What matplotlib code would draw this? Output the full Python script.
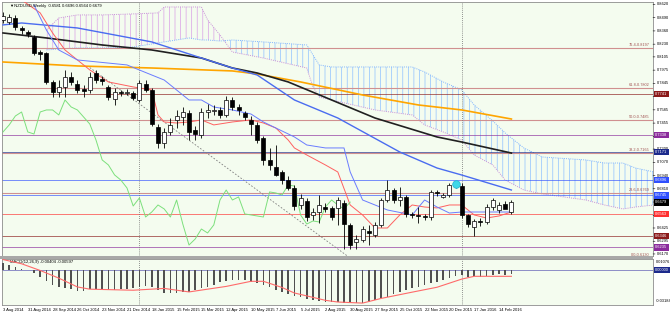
import matplotlib.pyplot as plt
import numpy as np
import pandas as pd

BG = "#f4fcef"
FONT = "Liberation Sans"

# weekly candles, first bar = week of 3 Aug 2014
first_week = "2014-08-03"
opens = [0.8468, 0.8448, 0.8487, 0.8389, 0.8350, 0.8301, 0.8153, 0.8144, 0.7859, 0.7761,
         0.7810, 0.7908, 0.7839, 0.7790, 0.7780, 0.7947, 0.7888, 0.7810, 0.7692, 0.7761,
         0.7751, 0.7751, 0.7682, 0.7839, 0.7780, 0.7417, 0.7260, 0.7368, 0.7486, 0.7515,
         0.7554, 0.7387, 0.7338, 0.7564, 0.7574, 0.7584, 0.7535, 0.7682, 0.7613, 0.7554,
         0.7486, 0.7437, 0.7309, 0.7093, 0.7024, 0.6975, 0.6896, 0.6818, 0.6651, 0.6690,
         0.6553, 0.6582, 0.6631, 0.6622, 0.6622, 0.6671, 0.6455, 0.6288, 0.6307, 0.6395,
         0.6356, 0.6455, 0.6700, 0.6798, 0.6700, 0.6730, 0.6563, 0.6553, 0.6543, 0.6533,
         0.6779, 0.6730, 0.6749, 0.6847, 0.6837, 0.6553, 0.6435, 0.6494, 0.6484, 0.6631,
         0.6602, 0.6661, 0.6581]
highs = [0.8546, 0.8527, 0.8517, 0.8409, 0.8369, 0.8320, 0.8173, 0.8153, 0.7878, 0.7878,
         0.7977, 0.7957, 0.7878, 0.7829, 0.7957, 0.7977, 0.7918, 0.7829, 0.7800, 0.7780,
         0.7790, 0.7770, 0.7878, 0.7878, 0.7800, 0.7446, 0.7407, 0.7505, 0.7584, 0.7613,
         0.7584, 0.7427, 0.7603, 0.7643, 0.7633, 0.7613, 0.7721, 0.7711, 0.7643, 0.7574,
         0.7525, 0.7466, 0.7328, 0.7211, 0.7240, 0.6995, 0.6936, 0.6847, 0.6759, 0.6720,
         0.6622, 0.6749, 0.6671, 0.6641, 0.6730, 0.6700, 0.6474, 0.6356, 0.6445, 0.6455,
         0.6484, 0.6720, 0.6896, 0.6818, 0.6830, 0.6749, 0.6582, 0.6631, 0.6563, 0.6798,
         0.6798, 0.6769, 0.6867, 0.6880, 0.6867, 0.6563, 0.6513, 0.6523, 0.6661, 0.6720,
         0.6680, 0.6690, 0.6696]
lows = [0.8438, 0.8428, 0.8369, 0.8330, 0.8301, 0.8124, 0.8075, 0.7839, 0.7711, 0.7711,
        0.7711, 0.7829, 0.7751, 0.7711, 0.7751, 0.7849, 0.7829, 0.7682, 0.7633, 0.7721,
        0.7731, 0.7682, 0.7662, 0.7761, 0.7427, 0.7211, 0.7211, 0.7338, 0.7407, 0.7437,
        0.7289, 0.7289, 0.7309, 0.7505, 0.7535, 0.7505, 0.7515, 0.7584, 0.7535, 0.7486,
        0.7338, 0.7260, 0.7044, 0.6995, 0.6936, 0.6857, 0.6798, 0.6602, 0.6612, 0.6494,
        0.6504, 0.6474, 0.6582, 0.6504, 0.6455, 0.6219, 0.6219, 0.6219, 0.6288, 0.6258,
        0.6337, 0.6435, 0.6680, 0.6671, 0.6641, 0.6533, 0.6523, 0.6474, 0.6504, 0.6504,
        0.6740, 0.6720, 0.6730, 0.6818, 0.6523, 0.6435, 0.6346, 0.6445, 0.6464, 0.6602,
        0.6573, 0.6622, 0.6564]
closes = [0.8507, 0.8497, 0.8399, 0.8369, 0.8330, 0.8144, 0.8134, 0.7859, 0.7761, 0.7810,
          0.7908, 0.7859, 0.7780, 0.7770, 0.7908, 0.7878, 0.7869, 0.7711, 0.7761, 0.7751,
          0.7761, 0.7702, 0.7849, 0.7780, 0.7446, 0.7260, 0.7368, 0.7437, 0.7525, 0.7564,
          0.7368, 0.7348, 0.7564, 0.7584, 0.7584, 0.7535, 0.7682, 0.7613, 0.7584, 0.7515,
          0.7446, 0.7289, 0.7093, 0.7044, 0.6946, 0.6896, 0.6818, 0.6641, 0.6720, 0.6533,
          0.6582, 0.6651, 0.6612, 0.6533, 0.6700, 0.6464, 0.6258, 0.6317, 0.6415, 0.6376,
          0.6455, 0.6700, 0.6798, 0.6700, 0.6730, 0.6563, 0.6553, 0.6543, 0.6533, 0.6779,
          0.6769, 0.6749, 0.6847, 0.6837, 0.6553, 0.6464, 0.6494, 0.6484, 0.6631, 0.6700,
          0.6651, 0.6612, 0.6679]

# moving averages, read at a few bars
black_ma_bars = [0, 7, 16, 24, 32, 37, 41, 46, 53, 60, 70, 74, 82]
black_ma_vals = [0.8340, 0.8291, 0.8222, 0.8173, 0.8094, 0.7996, 0.7947, 0.7859, 0.7682,
                 0.7505, 0.7319, 0.7269, 0.7161]
orange_ma_bars = [0, 12, 24, 37, 41, 48, 58, 67, 74, 82]
orange_ma_vals = [0.8055, 0.8016, 0.7996, 0.7967, 0.7937, 0.7859, 0.7731, 0.7633, 0.7584, 0.7495]
blue_ma_bars = [0, 3, 12, 24, 37, 41, 47, 54, 64, 70, 74, 82]
blue_ma_vals = [0.8419, 0.8438, 0.8389, 0.8252, 0.7996, 0.7927, 0.7682, 0.7505, 0.7171,
                0.7014, 0.6945, 0.6798]

# ichimoku
tenkan_bars = [3, 6, 8, 10, 14, 17, 21, 24, 25, 26, 28, 30, 32, 34, 37, 40, 42, 44, 46, 47,
               49, 52, 54, 56, 58, 60, 62, 64, 66, 68, 70, 72, 74, 76, 78, 80, 82]
tenkan_vals = [0.8664, 0.8537, 0.8340, 0.8173, 0.7977, 0.7859, 0.7810, 0.7780, 0.7535,
               0.7466, 0.7456, 0.7466, 0.7486, 0.7437, 0.7466, 0.7486, 0.7456, 0.7407,
               0.7289, 0.7211, 0.7142, 0.7044, 0.6975, 0.6651, 0.6553, 0.6425, 0.6425,
               0.6553, 0.6651, 0.6631, 0.6622, 0.6651, 0.6651, 0.6553, 0.6523, 0.6543, 0.6582]
kijun_bars = [5, 7, 9, 12, 20, 24, 26, 30, 32, 34, 37, 40, 42, 44, 47, 49, 52, 55, 56, 58,
              62, 66, 68, 70, 72, 74, 78, 82]
kijun_vals = [0.8615, 0.8369, 0.8173, 0.8075, 0.8026, 0.7927, 0.7878, 0.7682, 0.7682,
              0.7613, 0.7584, 0.7544, 0.7466, 0.7407, 0.7319, 0.7240, 0.7211, 0.7211,
              0.6975, 0.6700, 0.6602, 0.6553, 0.6700, 0.6631, 0.6572, 0.6582, 0.6582, 0.6582]
cloud_bars = [7, 9, 12, 16, 21, 25, 26, 30, 32, 33, 35, 37, 42, 49, 50, 51, 53, 60, 66, 68,
              71, 74, 76, 79, 81, 84, 87, 94, 97, 100, 102, 105]
span_a = [0.8173, 0.8183, 0.8193, 0.8193, 0.8202, 0.8242, 0.8252, 0.8291, 0.8271, 0.8271,
          0.8261, 0.8271, 0.8252, 0.8222, 0.8124, 0.8026, 0.8006, 0.8006, 0.8006, 0.7957,
          0.7859, 0.7780, 0.7633, 0.7476, 0.7358, 0.7211, 0.7122, 0.7093, 0.7063, 0.7063,
          0.7014, 0.6975]
span_b = [0.8369, 0.8487, 0.8517, 0.8517, 0.8527, 0.8537, 0.8595, 0.8595, 0.8595, 0.8468,
          0.8320, 0.8153, 0.8094, 0.7996, 0.7810, 0.7711, 0.7682, 0.7584, 0.7535, 0.7437,
          0.7368, 0.7289, 0.7142, 0.7044, 0.6896, 0.6798, 0.6759, 0.6700, 0.6651, 0.6612,
          0.6631, 0.6651]
chikou_shift = 26

# fibonacci retracement
fib_names = ["76.4", "61.8", "50.0", "38.2", "23.6", "0.0"]
fib_prices = [0.8197, 0.7802, 0.7485, 0.7165, 0.6769, 0.6130]

# horizontal levels with their right-axis tags
level_prices = [0.7741, 0.7338, 0.7171, 0.6896, 0.6745, 0.6563, 0.6346, 0.6235]
level_colours = ["#8b1a1a", "#8b2c9c", "#1c2a8c", "#3050ff", "#3050ff", "#ff3030",
                 "#8b1a1a", "#8b2c9c"]
bid_price = 0.6679

trend_bars = [14, 56]
trend_prices = [0.8000, 0.6130]
highlight_bar = 73
highlight_price = 0.6860

price_ticks = [0.8620, 0.8490, 0.8360, 0.8230, 0.8105, 0.7975, 0.7845, 0.7715, 0.7585,
               0.7455, 0.7325, 0.7200, 0.7070, 0.6940, 0.6810, 0.6680, 0.6550, 0.6425,
               0.6295, 0.6170]

macd_hist = [0.0070, 0.0042, 0.0023, 0.0005, -0.0005, -0.0033, -0.0070, -0.0107, -0.0144,
             -0.0163, -0.0172, -0.0181, -0.0200, -0.0200, -0.0181, -0.0181, -0.0191, -0.0191,
             -0.0191, -0.0181, -0.0181, -0.0172, -0.0163, -0.0153, -0.0163, -0.0191, -0.0219,
             -0.0219, -0.0219, -0.0209, -0.0209, -0.0191, -0.0172, -0.0163, -0.0144, -0.0116,
             -0.0107, -0.0098, -0.0098, -0.0098, -0.0116, -0.0126, -0.0144, -0.0163, -0.0191,
             -0.0209, -0.0228, -0.0246, -0.0256, -0.0274, -0.0284, -0.0293, -0.0302, -0.0302,
             -0.0302, -0.0312, -0.0312, -0.0312, -0.0312, -0.0302, -0.0284, -0.0265, -0.0256,
             -0.0228, -0.0209, -0.0191, -0.0172, -0.0163, -0.0144, -0.0126, -0.0116, -0.0098,
             -0.0079, -0.0060, -0.0051, -0.0070, -0.0060, -0.0070, -0.0060, -0.0051, -0.0042,
             -0.0051, -0.0040]
signal_bars = [0, 3, 6, 9, 12, 14, 21, 26, 30, 36, 40, 42, 45, 47, 52, 54, 58, 61, 66, 70,
               74, 76, 82]
signal_vals = [0.0098, 0.0058, -0.0005, -0.0077, -0.0160, -0.0181, -0.0191, -0.0174, -0.0207,
               -0.0155, -0.0107, -0.0107, -0.0165, -0.0217, -0.0286, -0.0302, -0.0312,
               -0.0268, -0.0209, -0.0163, -0.0086, -0.0060, -0.0060]
macd_top_label = "0.01076"
macd_bottom_label = "-0.03184"

W, H = 670, 314
fig = plt.figure(figsize=(W / 100, H / 100), dpi=100)
fig.patch.set_facecolor("#ffffff")

# grey bar between the two windows
fig.add_artist(plt.Rectangle((0, 1 - 259 / H), 653 / W, 3 / H, transform=fig.transFigure,
                             facecolor="#a8a8a8", edgecolor="none"))


def panel(left, top, right, bottom):
    a = fig.add_axes([left / W, 1 - bottom / H, (right - left) / W, (bottom - top) / H])
    a.set_facecolor(BG)
    for s in a.spines.values():
        s.set_color("#8c8c8c")
        s.set_linewidth(0.6)
    a.set_xticks([])
    a.set_yticks([])
    return a


ax = panel(2, 2, 653, 256)
mx = panel(2, 259, 653, 305)

n = len(closes)
idx = np.arange(n)
dates = pd.date_range(first_week, periods=n, freq="7D")
xlim = (-0.16, 104.84)

o = np.array(opens)
h = np.array(highs)
lo = np.array(lows)
c = np.array(closes)

# cloud
plt.rcParams["hatch.linewidth"] = 0.5
sa = np.array(span_a)
sb = np.array(span_b)
ax.fill_between(cloud_bars, sa, sb, where=sa >= sb, interpolate=True, facecolor="none",
                edgecolor="#8ec0ff", hatch="|||", linewidth=0, zorder=1)
ax.fill_between(cloud_bars, sa, sb, where=sa < sb, interpolate=True, facecolor="none",
                edgecolor="#d9a0e6", hatch="|||", linewidth=0, zorder=1)
ax.plot(cloud_bars, sa, color="#7fb4ff", lw=0.7, ls=(0, (1, 1.2)), zorder=2)
ax.plot(cloud_bars, sb, color="#c890d8", lw=0.7, ls=(0, (1, 1.2)), zorder=2)

# fib + levels
for name, p in zip(fib_names, fib_prices):
    ax.axhline(p, color="#d09090", lw=0.8, zorder=2)
    ax.text(xlim[1] - 0.6, p + 0.0006, f"{name}-{p:.4f}", color="#a05050", fontsize=2.8,
            ha="right", va="bottom", family=FONT, zorder=6)
for p, col in zip(level_prices, level_colours):
    ax.axhline(p, color=col, lw=0.7, alpha=0.65, zorder=2)

# period separators (new year)
for i in range(1, n):
    if dates[i].year != dates[i - 1].year:
        for a in (ax, mx):
            a.axvline(i, color="#707070", lw=0.6, ls=(0, (1, 1.5)), zorder=2)

ax.plot(trend_bars, trend_prices, color="#808080", lw=0.6, ls=(0, (2, 2)), zorder=2)

# lines
ax.plot(orange_ma_bars, orange_ma_vals, color="#ffa500", lw=1.2, zorder=3)
ax.plot(black_ma_bars, black_ma_vals, color="#202020", lw=1.2, zorder=3)
ax.plot(blue_ma_bars, blue_ma_vals, color="#4a6cf0", lw=1.0, zorder=3)
ax.plot(tenkan_bars, tenkan_vals, color="#ff6060", lw=0.7, zorder=3)
ax.plot(kijun_bars, kijun_vals, color="#6a7cff", lw=0.7, zorder=3)
ax.plot(idx[:-chikou_shift], c[chikou_shift:], color="#7ce07c", lw=0.7, zorder=3)

# candles
ax.vlines(idx, lo, h, color="black", lw=0.6, zorder=4)
bull = c >= o
body = np.maximum(np.abs(c - o), 0.0004)
ax.bar(idx[bull], body[bull], bottom=np.minimum(o, c)[bull], width=0.62, color="white",
       edgecolor="black", linewidth=0.5, zorder=5)
ax.bar(idx[~bull], body[~bull], bottom=np.minimum(o, c)[~bull], width=0.62, color="black",
       edgecolor="black", linewidth=0.5, zorder=5)

ax.scatter([highlight_bar], [highlight_price], s=30, color="#3fd8e8", edgecolor="#20b0d0",
           linewidth=0.5, zorder=6)

ax.set_xlim(*xlim)
ax.set_ylim(0.6150, 0.8644)

ax.text(0.012, 0.993, "\u25bcNZDUSD,Weekly  0.6581 0.6696 0.6564 0.6679", transform=ax.transAxes,
        fontsize=3.0, ha="left", va="top", family=FONT, color="black")

# right axis labels (tags drawn on top hide the ticks beneath them)
tag_prices = level_prices + [bid_price]
tag_colours = level_colours + ["#000000"]
for p in price_ticks:
    ax.annotate("", xy=(1, p), xycoords=("axes fraction", "data"), xytext=(1.5, 0),
                textcoords="offset points", annotation_clip=False,
                arrowprops=dict(arrowstyle="-", color="black", lw=0.4))
    if min(abs(p - t) for t in tag_prices) < 0.0028:
        continue
    ax.annotate(f"{p:.4f}", xy=(1, p), xycoords=("axes fraction", "data"), xytext=(2.5, 0),
                textcoords="offset points", fontsize=2.9, va="center", ha="left",
                family=FONT, color="black", annotation_clip=False)
for p, col in zip(tag_prices, tag_colours):
    ax.annotate(f"{p:.4f}", xy=(1, p), xycoords=("axes fraction", "data"), xytext=(1.6, 0),
                textcoords="offset points", fontsize=2.9, va="center", ha="left",
                family=FONT, color="white", annotation_clip=False, zorder=8,
                bbox=dict(boxstyle="square,pad=0.35", fc=col, ec=col, lw=0))

# MACD
mx.bar(idx, macd_hist, width=0.28, color="#505050", zorder=3)
mx.plot(signal_bars, signal_vals, color="#ff6a6a", lw=0.8, zorder=4)
mx.axhline(0, color="#7c7cc0", lw=0.6, zorder=2)
mx.set_xlim(*xlim)
mx.set_ylim(-0.0330, 0.0103)
mx.text(0.012, 0.97, "MACD(12,26,9) -0.00404 -0.00597", transform=mx.transAxes,
        fontsize=3.0, ha="left", va="top", family=FONT)
mx.text(1.004, 0.97, macd_top_label, transform=mx.transAxes, fontsize=2.9, ha="left",
        va="top", family=FONT)
mx.text(1.004, 0.04, macd_bottom_label, transform=mx.transAxes, fontsize=2.9, ha="left",
        va="bottom", family=FONT)
mx.annotate("0.00000", xy=(1, 0), xycoords=("axes fraction", "data"), xytext=(1.6, 0),
            textcoords="offset points", fontsize=2.9, va="center", ha="left", family=FONT,
            color="white", annotation_clip=False,
            bbox=dict(boxstyle="square,pad=0.35", fc="#1c2a8c", ec="#1c2a8c", lw=0))

# dates
for i in range(0, n, 4):
    d = dates[i]
    mx.annotate(f"{d.day} {d:%b %Y}", xy=(i, 0), xycoords=("data", "axes fraction"),
                xytext=(0, -2.5), textcoords="offset points", fontsize=3.0, ha="left",
                va="top", family=FONT, annotation_clip=False)

fig.savefig("out.png", dpi=100, facecolor=fig.get_facecolor())
